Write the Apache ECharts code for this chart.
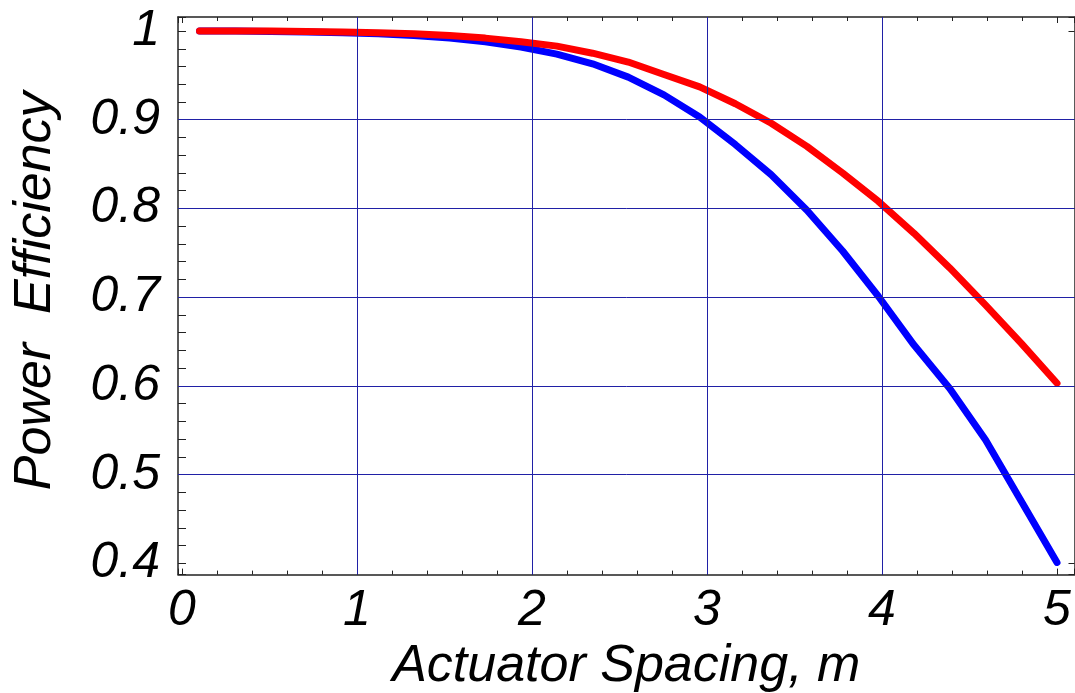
<!DOCTYPE html>
<html>
<head>
<meta charset="utf-8">
<script src="https://cdn.jsdelivr.net/npm/echarts@6/dist/echarts.min.js"></script>
<style>
html,body{margin:0;padding:0;background:#fff;overflow:hidden;width:1075px;height:693px;}
#chart{width:1075px;height:693px;overflow:hidden;}
</style>
</head>
<body>
<div id="chart"></div>
<script>
// Actuator spacing (m) at each computed point
const spacing = [0.1, 0.304, 0.508, 0.712, 0.917, 1.121, 1.325, 1.529, 1.733, 1.937, 2.142, 2.346, 2.55, 2.754, 2.958, 3.162, 3.367, 3.571, 3.775, 3.979, 4.183, 4.387, 4.592, 4.796, 5.0];
// Power efficiency, blue curve
const blueEff = [1.000, 1.000, 0.9995, 0.999, 0.998, 0.997, 0.995, 0.992, 0.988, 0.982, 0.974, 0.963, 0.948, 0.928, 0.903, 0.872, 0.838, 0.798, 0.752, 0.701, 0.646, 0.597, 0.539, 0.470, 0.401];
// Power efficiency, red curve
const redEff = [1.000, 1.000, 1.000, 0.9995, 0.999, 0.998, 0.997, 0.995, 0.992, 0.988, 0.983, 0.975, 0.965, 0.951, 0.937, 0.918, 0.896, 0.870, 0.840, 0.808, 0.772, 0.733, 0.691, 0.648, 0.603];

// Interior grid lines (Mathematica GridLines)
const xGridValues = [1, 2, 3, 4];
const yGridValues = [0.5, 0.6, 0.7, 0.8, 0.9];

const xTitle = 'Actuator Spacing, m';
const yTitle = 'Power  Efficiency';

const X_MIN = -0.0229, X_MAX = 5.1;
const Y_MIN = 0.3873, Y_MAX = 1.0158;

const FONT = '"Liberation Sans", Arial, Helvetica, sans-serif';
const frameColor = '#222';
const gridColor = '#2020a6';

function near(v, step) {
  const r = v / step;
  return Math.abs(r - Math.round(r)) < 1e-6;
}

const labelStyle = {fontFamily: FONT, fontStyle: 'italic', fontSize: 50, color: '#000'};

function majorX(pos, withLabels) {
  return {
    type: 'value', position: pos, min: X_MIN, max: X_MAX, minInterval: 1, maxInterval: 1,
    axisLine: {show: true, onZero: false, lineStyle: {color: frameColor, width: 1.5}},
    axisTick: {show: true, inside: true, length: 6, lineStyle: {color: frameColor, width: 1}},
    axisLabel: withLabels ? Object.assign({show: true, margin: 11,
      formatter: v => near(v, 1) ? String(Math.round(v)) : ''}, labelStyle) : {show: false},
    splitLine: {show: false},
    name: withLabels ? xTitle : '', nameLocation: 'middle', nameGap: 59,
    nameTextStyle: {fontFamily: FONT, fontStyle: 'italic', fontSize: 52, color: '#000'}
  };
}
function minorX(pos) {
  return {
    type: 'value', position: pos, min: X_MIN, max: X_MAX, minInterval: 0.2, maxInterval: 0.2,
    axisLine: {show: false}, axisLabel: {show: false}, splitLine: {show: false},
    axisTick: {show: true, inside: true, length: 4, lineStyle: {color: frameColor, width: 1}}
  };
}
function majorY(pos, withLabels) {
  return {
    type: 'value', position: pos, min: Y_MIN, max: Y_MAX, minInterval: 0.1, maxInterval: 0.1,
    axisLine: {show: true, onZero: false, lineStyle: {color: frameColor, width: 1.5}},
    axisTick: {show: true, inside: true, length: 6, lineStyle: {color: frameColor, width: 1}},
    axisLabel: withLabels ? Object.assign({show: true, margin: 18,
      formatter: v => near(v, 0.1) ? String(Math.round(v * 10) / 10) : ''}, labelStyle) : {show: false},
    splitLine: {show: false},
    name: withLabels ? yTitle : '', nameLocation: 'middle', nameGap: 116, nameRotate: 90,
    nameTextStyle: {fontFamily: FONT, fontStyle: 'italic', fontSize: 52, color: '#000', padding: [0, 0, 0, 10]}
  };
}
function minorY(pos) {
  return {
    type: 'value', position: pos, min: Y_MIN, max: Y_MAX, minInterval: 0.02, maxInterval: 0.02,
    axisLine: {show: false}, axisLabel: {show: false}, splitLine: {show: false},
    axisTick: {show: true, inside: true, length: 4, lineStyle: {color: frameColor, width: 1}}
  };
}

const chart = echarts.init(document.getElementById('chart'), null, {renderer: 'canvas', width: 1075, height: 693});
chart.setOption({
  animation: false,
  backgroundColor: '#fff',
  grid: {left: 178, top: 17, width: (X_MAX - X_MIN) * 175, height: 557.6, containLabel: false, outerBoundsMode: 'none'},
  xAxis: [majorX('bottom', true), minorX('bottom'), majorX('top', false), minorX('top')],
  yAxis: [majorY('left', true), minorY('left'), majorY('right', false), minorY('right')],
  series: [
    {
      name: 'Grid', type: 'line', xAxisIndex: 0, yAxisIndex: 0, data: [], z: 1, silent: true,
      markLine: {
        silent: true, symbol: ['none', 'none'], label: {show: false}, animation: false,
        lineStyle: {color: gridColor, width: 1, type: 'solid'},
        emphasis: {disabled: true},
        data: xGridValues.map(v => ({xAxis: v})).concat(yGridValues.map(v => ({yAxis: v})))
      }
    },
    {
      name: 'Blue', type: 'line', xAxisIndex: 0, yAxisIndex: 0, showSymbol: false, smooth: false, z: 3,
      data: spacing.map((x, i) => [x, blueEff[i]]),
      lineStyle: {color: '#0000ff', width: 7, cap: 'round', join: 'round'}
    },
    {
      name: 'Red', type: 'line', xAxisIndex: 0, yAxisIndex: 0, showSymbol: false, smooth: false, z: 4,
      data: spacing.map((x, i) => [x, redEff[i]]),
      lineStyle: {color: '#ff0000', width: 7, cap: 'round', join: 'round'}
    }
  ]
});
</script>
</body>
</html>
